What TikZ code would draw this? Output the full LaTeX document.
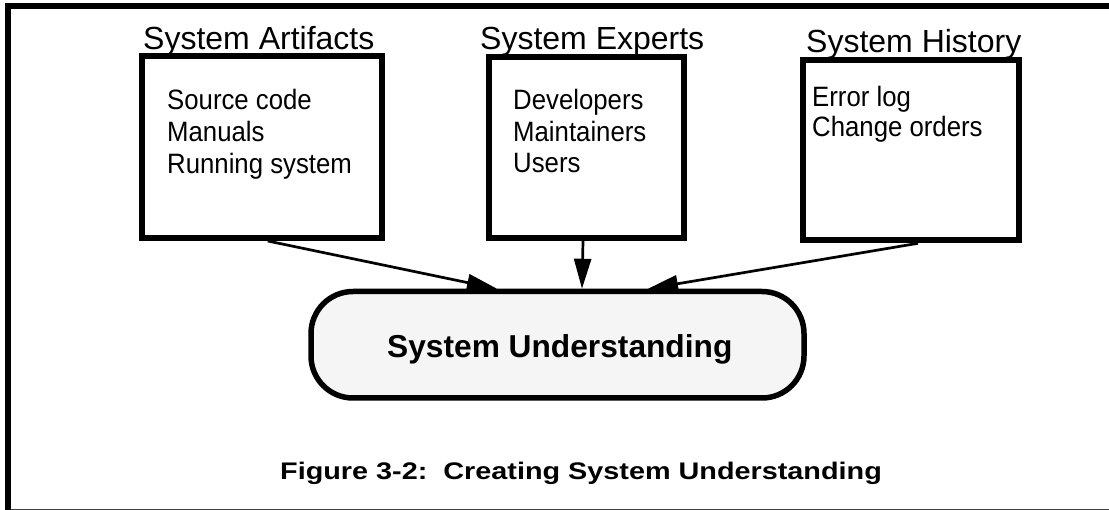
\documentclass[tikz,border=0pt]{standalone}
\usepackage{fontspec}
\setmainfont{Liberation Sans}
\newfontfamily\narrowfont{Liberation Sans}[FakeStretch=0.92]
\newfontfamily\capfont{Liberation Sans}[FakeStretch=1.2]
\usetikzlibrary{arrows.meta}
\definecolor{ovalfill}{HTML}{F5F5F5}
\definecolor{edgegray}{HTML}{404040}
\begin{document}
\begin{tikzpicture}[x=1pt,y=-1pt,
  titletext/.style={anchor=base west, inner sep=0pt, font=\fontsize{32}{38}\selectfont},
  itemtext/.style={anchor=base west, inner sep=0pt, font=\narrowfont\fontsize{28}{31}\selectfont},
  srcbox/.style={draw, line width=6pt, inner sep=0pt},
  flow/.style={line width=2.7pt, -{Triangle[length=30pt,width=17pt]}},
]
\useasboundingbox (0,0) rectangle (1109,510);
% frame
\draw[line width=6pt] (8,510) -- (8,6) -- (1109,6);
\draw[line width=1.3pt, edgegray] (11,509.3) -- (1109,509.3);

% source boxes
\node[srcbox, minimum width=240.5pt, minimum height=181.5pt] (b1) at (261.75,147.25) {};
\node[srcbox, minimum width=195pt, minimum height=181pt] (b2) at (586,147.5) {};
\node[srcbox, minimum width=216pt, minimum height=180.6pt] (b3) at (911,150) {};

% titles
\node[titletext] (t1) at (143,50) {System Artifacts};
\node[titletext] (t2) at (480,50) {System Experts};
\node[titletext] (t3) at (806,53) {System History};

% items
\node[itemtext] (a1) at (167,110) {Source code};
\node[itemtext] (a2) at (167,142) {Manuals};
\node[itemtext] (a3) at (167,174) {Running system};
\node[itemtext] (e1) at (513,110) {Developers};
\node[itemtext] (e2) at (513,142) {Maintainers};
\node[itemtext] (e3) at (513,173) {Users};
\node[itemtext] (h1) at (812,107) {Error log};
\node[itemtext] (h2) at (812,137) {Change orders};

% understanding
\node[draw, line width=5.5pt, rounded corners=42pt, fill=ovalfill,
      minimum width=493pt, minimum height=106.5pt, inner sep=0pt] (su) at (557.5,344.75) {};
\node[anchor=base west, inner sep=0pt, font=\bfseries\fontsize{31.7}{36}\selectfont] (sut) at (387,358) {System Understanding};

% arrows
\draw[flow] ([xshift=6pt]b1.south) -- ([xshift=-60.5pt]su.north);
\draw[flow] ([xshift=-3pt]b2.south) -- ([xshift=24.5pt]su.north);
\draw[flow] ([xshift=7pt]b3.south) -- ([xshift=90.5pt]su.north);

% caption
\node[anchor=base west, inner sep=0pt, font=\capfont\bfseries\fontsize{24}{28}\selectfont] (cap) at (280,479) {Figure 3-2:\ \ Creating System Understanding};
\end{tikzpicture}
\end{document}
